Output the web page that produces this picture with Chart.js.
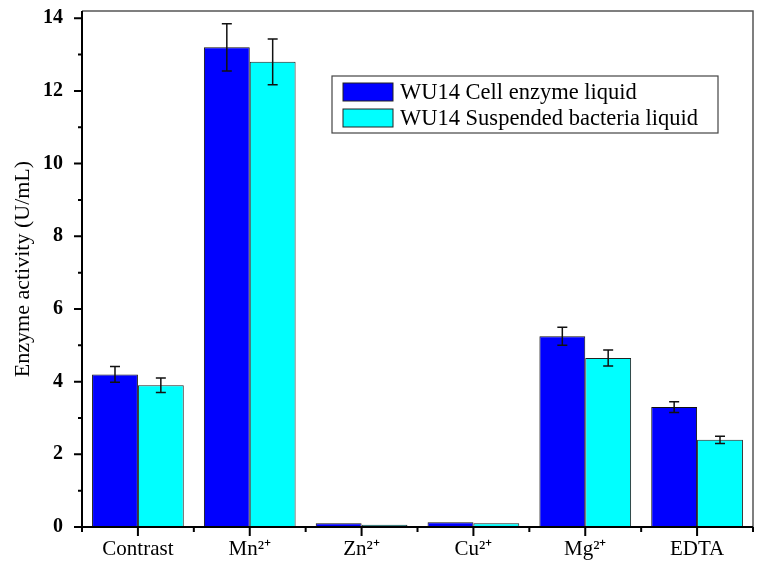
<!DOCTYPE html>
<html><head><meta charset="utf-8">
<script src="https://cdn.jsdelivr.net/npm/chart.js@4"></script>
<style>html,body{margin:0;padding:0;background:#fff}#wrap{width:758px;height:562px}</style>
</head><body><div id="wrap"><canvas id="c" width="758" height="562"></canvas></div>
<script>
const categories = ['Contrast', 'Mn\u00B2\u207A', 'Zn\u00B2\u207A', 'Cu\u00B2\u207A', 'Mg\u00B2\u207A', 'EDTA'];
const seriesNames = ['WU14 Cell enzyme liquid', 'WU14 Suspended bacteria liquid'];
const cellValues = [4.2, 13.2, 0.1, 0.13, 5.25, 3.3];
const cellErrors = [0.22, 0.65, 0, 0, 0.25, 0.15];
const suspValues = [3.9, 12.8, 0.065, 0.1, 4.65, 2.4];
const suspErrors = [0.2, 0.63, 0, 0, 0.22, 0.1];
const yTicks = [0, 2, 4, 6, 8, 10, 12, 14];
const yMinorTicks = [1, 3, 5, 7, 9, 11, 13];
const yMax = 14.2;

const SERIF = '"Liberation Serif", "Times New Roman", serif';

const decor = {
  id: 'decor',
  afterDatasetsDraw(chart) {
    const ctx = chart.ctx, a = chart.chartArea;
    const xs = chart.scales.x, ys = chart.scales.y;
    ctx.save();
    const errs = [cellErrors, suspErrors];
    chart.data.datasets.forEach((ds, di) => {
      const meta = chart.getDatasetMeta(di);
      meta.data.forEach((bar, i) => {
        const e = errs[di][i];
        if (!e) return;
        const v = ds.data[i];
        const x = bar.x;
        const yt = ys.getPixelForValue(v + e), yb = ys.getPixelForValue(v - e);
        ctx.strokeStyle = '#111'; ctx.lineWidth = 1.5;
        ctx.beginPath();
        ctx.moveTo(x, yt); ctx.lineTo(x, yb);
        ctx.moveTo(x - 5, yt); ctx.lineTo(x + 5, yt);
        ctx.moveTo(x - 5, yb); ctx.lineTo(x + 5, yb);
        ctx.stroke();
      });
    });
    ctx.strokeStyle = '#555'; ctx.lineWidth = 1.5;
    ctx.beginPath();
    ctx.moveTo(a.left, a.top); ctx.lineTo(a.right, a.top); ctx.lineTo(a.right, a.bottom);
    ctx.stroke();
    ctx.strokeStyle = '#000'; ctx.lineWidth = 2;
    ctx.beginPath();
    ctx.moveTo(a.left, a.top); ctx.lineTo(a.left, a.bottom); ctx.lineTo(a.right, a.bottom);
    ctx.stroke();
    ctx.lineWidth = 2;
    ctx.beginPath();
    yTicks.forEach(v => { const y = ys.getPixelForValue(v); ctx.moveTo(a.left - 8, y); ctx.lineTo(a.left, y); });
    yMinorTicks.forEach(v => { const y = ys.getPixelForValue(v); ctx.moveTo(a.left - 4, y); ctx.lineTo(a.left, y); });
    const n = categories.length;
    for (let i = 0; i < n; i++) {
      const x = xs.getPixelForValue(i);
      ctx.moveTo(x, a.bottom); ctx.lineTo(x, a.bottom + 9);
    }
    for (let i = 0; i <= n; i++) {
      const x = xs.getPixelForValue(i - 0.5);
      ctx.moveTo(x, a.bottom); ctx.lineTo(x, a.bottom + 5);
    }
    ctx.stroke();
    const lx = a.left + 250, ly = a.top + 65, lw = 386, lh = 57;
    ctx.fillStyle = '#fff';
    ctx.fillRect(lx, ly, lw, lh);
    ctx.strokeStyle = '#444'; ctx.lineWidth = 1.2;
    ctx.strokeRect(lx, ly, lw, lh);
    chart.data.datasets.forEach((ds, di) => {
      const sy = ly + 7 + di * 26;
      ctx.fillStyle = ds.backgroundColor;
      ctx.fillRect(lx + 11, sy, 50, 18);
      ctx.strokeStyle = '#222'; ctx.lineWidth = 1;
      ctx.strokeRect(lx + 11, sy, 50, 18);
      ctx.fillStyle = '#000';
      ctx.font = '22.5px ' + SERIF;
      ctx.textBaseline = 'middle'; ctx.textAlign = 'left';
      ctx.fillText(ds.label, lx + 68, sy + 10);
    });
    ctx.restore();
  }
};

new Chart(document.getElementById('c'), {
  type: 'bar',
  data: {
    labels: categories,
    datasets: [
      { label: seriesNames[0], data: cellValues, backgroundColor: '#0000FF', borderColor: '#111', borderWidth: 1 },
      { label: seriesNames[1], data: suspValues, backgroundColor: '#00FFFF', borderColor: '#222', borderWidth: 1 }
    ]
  },
  options: {
    responsive: false,
    animation: false,
    events: [],
    layout: { padding: { top: 11, right: 5, left: 0, bottom: 0 } },
    plugins: { legend: { display: false }, tooltip: { enabled: false } },
    datasets: { bar: { barPercentage: 1, categoryPercentage: 0.82 } },
    scales: {
      x: {
        offset: true,
        grid: { display: false, drawTicks: false },
        border: { display: false },
        ticks: { color: '#000', font: { family: SERIF, size: 21 }, padding: 10, maxRotation: 0, autoSkip: false },
        afterFit(s) { s.height = 35; s.paddingLeft = 0; s.paddingRight = 0; }
      },
      y: {
        min: 0, max: yMax,
        grid: { display: false, drawTicks: false },
        border: { display: false },
        afterBuildTicks(s) { s.ticks = yTicks.map(v => ({ value: v })); },
        ticks: { color: '#000', font: { family: SERIF, size: 20, weight: 'bold' }, padding: 19 },
        title: { display: true, text: 'Enzyme activity (U/mL)', color: '#000', font: { family: SERIF, size: 22 }, padding: { top: 10, bottom: 0 } },
        afterFit(s) { s.width = 82; s.paddingTop = 0; s.paddingBottom = 0; }
      }
    }
  },
  plugins: [decor]
});
</script>
</body></html>
